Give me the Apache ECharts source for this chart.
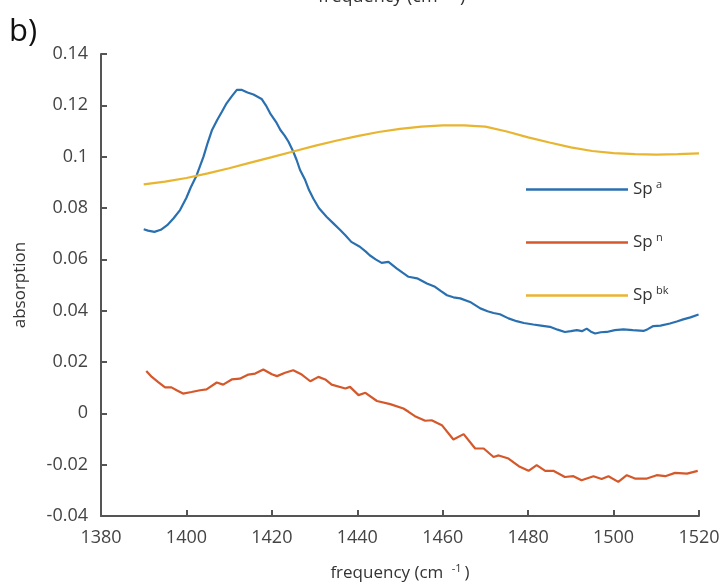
<!DOCTYPE html>
<html lang="en">
<head>
    <meta charset="UTF-8">
    <script src="https://cdn.jsdelivr.net/npm/echarts@6/dist/echarts.min.js"></script>
</head>
<body style="margin:0;background:#fff">
    <div id="main" style="height: 588px;width: 725px;"></div>
    <script>
        // Sp a (blue)
        var freqA = [1390,1391,1392.5,1394,1395.5,1397,1398.5,1400,1401,1402.4,1404,1405,1406,1407.2,1408.3,1409.4,1410.6,1411.8,1413,1414.3,1415.7,1417.6,1418.6,1419.6,1421,1422,1423,1423.9,1425,1425.8,1426.6,1427.8,1428.7,1429.7,1431,1432.8,1434.4,1436,1437.2,1438.6,1440.6,1442,1442.9,1444.3,1445.7,1447.3,1449.2,1450.6,1452,1454,1456.3,1458.2,1459.6,1461,1462.5,1464.1,1466.4,1468.8,1470.5,1471.9,1473.4,1475.4,1477.3,1479,1481.2,1483,1485.1,1486.9,1488.6,1490,1491.4,1492.6,1493.7,1494.7,1495.7,1497,1498.4,1500.3,1502.3,1504.5,1507,1508,1509.3,1511,1513.2,1514.8,1516.3,1518,1519.9]
        var spA = [0.0717,0.0712,0.0707,0.0715,0.0733,0.0760,0.0792,0.0840,0.0880,0.0928,0.1000,0.1055,0.1104,0.1143,0.1175,0.1208,0.1235,0.1260,0.1260,0.1250,0.1242,0.1225,0.1200,0.1169,0.1135,0.1104,0.1082,0.1058,0.1020,0.0987,0.0948,0.0909,0.0870,0.0837,0.0800,0.0766,0.0740,0.0714,0.0694,0.0668,0.0649,0.0630,0.0616,0.0600,0.0586,0.0590,0.0565,0.0548,0.0532,0.0526,0.0506,0.0493,0.0476,0.0460,0.0452,0.0448,0.0434,0.0409,0.0398,0.0391,0.0386,0.0370,0.0359,0.0352,0.0346,0.0342,0.0337,0.0326,0.0317,0.0320,0.0324,0.0320,0.0330,0.0318,0.0311,0.0316,0.0317,0.0324,0.0327,0.0324,0.0321,0.0328,0.0340,0.0342,0.0350,0.0358,0.0366,0.0374,0.0385]

        // Sp n (red)
        var freqN = [1390.6,1391.9,1393.4,1395,1396.5,1397.7,1399.2,1401.2,1403.2,1404.7,1407.1,1408.6,1410.6,1412.5,1414.5,1416.1,1418,1420,1421.2,1423.1,1425,1427,1429,1430.9,1432.5,1434,1437.2,1438.3,1440.3,1441.9,1444.6,1447.7,1450.8,1452,1453.5,1455.9,1457.4,1459.8,1462.5,1464.9,1467.6,1469.6,1471.9,1473.1,1475.4,1477.8,1480.1,1482,1484,1485.9,1488.6,1490.6,1492.5,1495.3,1497.2,1498.8,1501.1,1503.1,1505,1507.8,1510.1,1512.1,1514.4,1517.2,1519.7]
        var spN = [0.0165,0.0142,0.0122,0.0101,0.0101,0.0090,0.0077,0.0083,0.0090,0.0093,0.0120,0.0112,0.0132,0.0135,0.0151,0.0155,0.0171,0.0152,0.0145,0.0158,0.0168,0.0151,0.0125,0.0142,0.0132,0.0112,0.0097,0.0103,0.0071,0.0080,0.0048,0.0036,0.0019,0.0006,-0.0011,-0.0029,-0.0027,-0.0046,-0.0102,-0.0081,-0.0137,-0.0137,-0.0170,-0.0164,-0.0176,-0.0206,-0.0224,-0.0202,-0.0224,-0.0224,-0.0248,-0.0245,-0.0261,-0.0245,-0.0256,-0.0245,-0.0267,-0.0241,-0.0254,-0.0254,-0.0241,-0.0245,-0.0232,-0.0235,-0.0224]

        // Sp bk (yellow)
        var freqBk = [1390,1395,1400,1405,1410,1415,1420,1425,1430,1435,1440,1445,1450,1455,1460,1465,1470,1475,1480,1485,1490,1495,1500,1505,1510,1515,1520]
        var spBk = [0.0892,0.0903,0.0917,0.0935,0.0955,0.0977,0.0998,0.1020,0.1042,0.1062,0.1080,0.1096,0.1108,0.1117,0.1122,0.1122,0.1117,0.1098,0.1075,0.1055,0.1036,0.1022,0.1014,0.1010,0.1008,0.1010,0.1013]

        var names = ['Sp a', 'Sp n', 'Sp bk']
        var sups = {'Sp a': 'a', 'Sp n': 'n', 'Sp bk': 'bk'}
        var colors = ['#2a70b0', '#d4582a', '#e8b530']

        function pairs(xs, ys) {
            return xs.map(function (x, i) { return [x, ys[i]] })
        }

        var font = '"Open Sans", "Noto Sans", sans-serif'
        var myCharts = echarts.init(document.getElementById('main'))
        var option = {
            animation: false,
            color: colors,
            grid: {left: 101, right: 26, top: 54, bottom: 72},
            graphic: [
                {type: 'text', left: 9, top: 17,
                    style: {text: 'b)', font: '31px ' + font, fill: '#111'}},
                {type: 'text', left: 318, top: -14,
                    style: {text: '{n|frequency (cm }{s|-1}{n|)}', rich: {
                        n: {fontSize: 18, fontFamily: font, fill: '#333'},
                        s: {fontSize: 12, fontFamily: font, fill: '#333', padding: [0, 3, 10, 4]}
                    }}}
            ],
            legend: {
                orient: 'vertical',
                left: 521, top: 174,
                icon: 'rect',
                itemWidth: 102, itemHeight: 2.5, itemGap: 34,
                data: names,
                formatter: function (n) { return '{b|Sp} {s|' + sups[n] + '}' },
                textStyle: {
                    rich: {
                        b: {fontSize: 17, fontFamily: font, color: '#333'},
                        s: {fontSize: 11, fontFamily: font, color: '#333', padding: [0, 0, 10, 0]}
                    }
                }
            },
            xAxis: {
                type: 'value',
                min: 1380, max: 1520, interval: 20,
                name: '{n|frequency (cm }{s|-1}{n|)}',
                nameLocation: 'middle', nameGap: 47,
                nameTextStyle: {rich: {
                    n: {fontSize: 17, fontFamily: font, color: '#333'},
                    s: {fontSize: 11, fontFamily: font, color: '#333', padding: [0, 3, 9, 4]}
                }},
                axisLine: {onZero: false, lineStyle: {color: '#555', width: 2}},
                axisTick: {inside: true, length: 6, lineStyle: {color: '#555', width: 2}},
                axisLabel: {margin: 13, fontSize: 18, fontFamily: font, color: '#444',
                    formatter: function (v) { return String(v) }},
                splitLine: {show: false}
            },
            yAxis: {
                type: 'value',
                min: -0.04, max: 0.14, interval: 0.02,
                name: 'absorption',
                nameLocation: 'middle', nameGap: 72,
                nameTextStyle: {fontSize: 17, fontFamily: font, color: '#333'},
                axisLine: {show: true, lineStyle: {color: '#555', width: 2}},
                axisTick: {show: true, inside: true, length: 6, lineStyle: {color: '#555', width: 2}},
                axisLabel: {margin: 13, fontSize: 18, fontFamily: font, color: '#444',
                    formatter: function (v) { return String(Math.round(v * 100) / 100) }},
                splitLine: {show: false}
            },
            series: [
                {name: names[0], type: 'line', symbol: 'none', lineStyle: {width: 2.2}, data: pairs(freqA, spA)},
                {name: names[1], type: 'line', symbol: 'none', lineStyle: {width: 2.2}, data: pairs(freqN, spN)},
                {name: names[2], type: 'line', symbol: 'none', lineStyle: {width: 2.2}, data: pairs(freqBk, spBk)}
            ]
        }
        myCharts.setOption(option)
    </script>
</body>
</html>
